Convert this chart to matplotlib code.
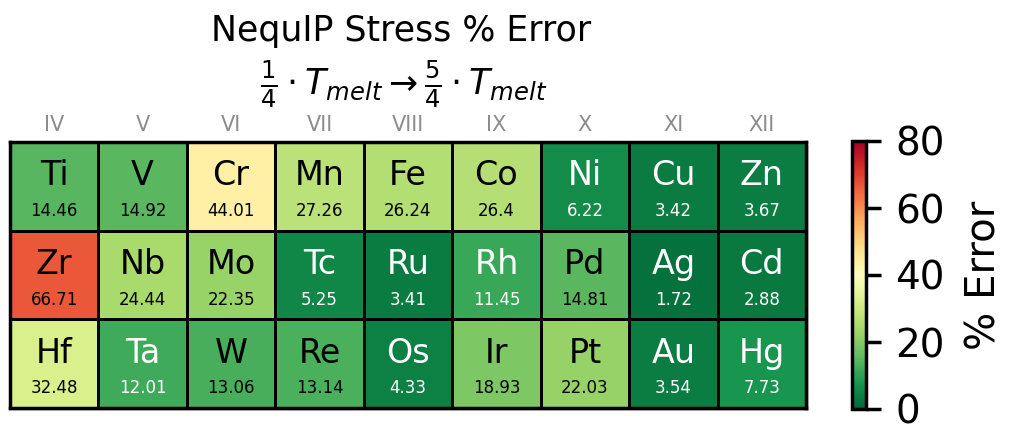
import numpy as np
import matplotlib.pyplot as plt
from matplotlib.patches import Rectangle
from matplotlib.colors import Normalize

groups = ['IV', 'V', 'VI', 'VII', 'VIII', 'IX', 'X', 'XI', 'XII']
row_3d = ['Ti', 'V', 'Cr', 'Mn', 'Fe', 'Co', 'Ni', 'Cu', 'Zn']
row_4d = ['Zr', 'Nb', 'Mo', 'Tc', 'Ru', 'Rh', 'Pd', 'Ag', 'Cd']
row_5d = ['Hf', 'Ta', 'W', 'Re', 'Os', 'Ir', 'Pt', 'Au', 'Hg']
err_3d = [14.46, 14.92, 44.01, 27.26, 26.24, 26.4, 6.22, 3.42, 3.67]
err_4d = [66.71, 24.44, 22.35, 5.25, 3.41, 11.45, 14.81, 1.72, 2.88]
err_5d = [32.48, 12.01, 13.06, 13.14, 4.33, 18.93, 22.03, 3.54, 7.73]

symbols = [row_3d, row_4d, row_5d]
errors = np.array([err_3d, err_4d, err_5d])

cmap = plt.get_cmap('RdYlGn_r')
norm = Normalize(vmin=0, vmax=80)

W, H = 1011, 424
fig = plt.figure(figsize=(W / 100, H / 100), dpi=100)

# main table axes
ax = fig.add_axes([10 / W, (H - 408) / H, 796 / W, 266 / H])

# soft drop shadow under the table
shadow = Rectangle((0.004, -0.012), 1.0, 1.0, transform=ax.transAxes,
                   facecolor='#d0d0d0', edgecolor='none', zorder=0, clip_on=False)
ax.add_patch(shadow)

mesh = ax.pcolormesh(np.arange(10), np.arange(4), errors, cmap=cmap, norm=norm,
                     edgecolors='black', linewidth=2, zorder=1)
ax.set_xlim(0, 9)
ax.set_ylim(3, 0)
ax.set_xticks([])
ax.set_yticks([])
for s in ax.spines.values():
    s.set_linewidth(2.5)
    s.set_zorder(3)

for i in range(3):
    for j in range(9):
        val = errors[i, j]
        tc = 'white' if val < 12.5 else 'black'
        ax.text(j + 0.5, i + 0.38, symbols[i][j], ha='center', va='center',
                fontsize=24, color=tc, zorder=4)
        ax.text(j + 0.5, i + 0.78, f'{val:g}', ha='center', va='center',
                fontsize=12, color=tc, zorder=4)

# group numbers above the columns
for j, g in enumerate(groups):
    ax.text(j + 0.5, -0.19, g, ha='center', va='center', fontsize=15,
            color='#8c8c8c', clip_on=False)

fig.text(401 / W, 1 - 31 / H, 'NequIP Stress % Error', ha='center', va='center',
         fontsize=25)
fig.text(404 / W, 1 - 84 / H,
         r'$\frac{1}{4} \cdot T_{melt} \rightarrow \frac{5}{4} \cdot T_{melt}$',
         ha='center', va='center', fontsize=25)

# colorbar
cax = fig.add_axes([852 / W, (H - 409) / H, 14 / W, 268 / H])
cb = fig.colorbar(mesh, cax=cax, ticks=[0, 20, 40, 60, 80])
cb.outline.set_linewidth(2.5)
cax.tick_params(labelsize=28, length=11, width=2.5, pad=10)
cb.set_label('% Error', fontsize=29, labelpad=14)

fig.savefig('out.png', dpi=100)
